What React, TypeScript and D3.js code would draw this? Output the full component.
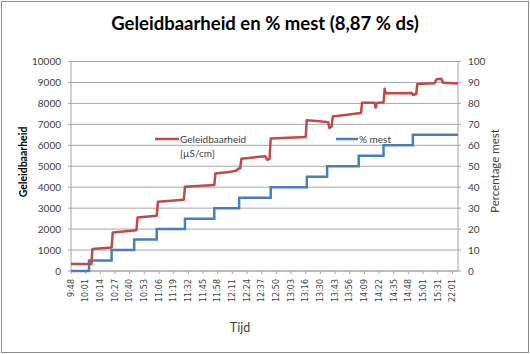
import React from "react";
import * as d3 from "d3";

const title = "Geleidbaarheid en % mest (8,87 % ds)";

// category labels every 13 samples
const timeLabels = [
  "9:48", "10:01", "10:14", "10:27", "10:40", "10:53", "11:06", "11:19", "11:32",
  "11:45", "11:58", "12:11", "12:24", "12:37", "12:50", "13:03", "13:16", "13:30",
  "13:43", "13:56", "14:09", "14:22", "14:35", "14:48", "15:01", "15:31", "22:01",
];
const labelStep = 13;
const categoryCount = 344;

// Geleidbaarheid [µS/cm] (sample index, value)
const redIdx = [
  0, 18, 19, 36, 37, 58, 59, 76, 77, 100, 101, 127, 128, 140, 147, 148, 150, 151,
  172, 174, 176, 177, 208, 209, 220, 228, 229, 231, 232, 257, 258, 269, 270, 271,
  277, 278, 279, 302, 303, 306, 307, 322, 324, 328, 330, 343,
];
const redVal = [
  330, 330, 1050, 1120, 1840, 1950, 2550, 2640, 3300, 3400, 4020, 4100, 4650, 4720,
  4800, 4880, 4900, 5360, 5480, 5300, 5350, 6320, 6400, 7200, 7150, 7100, 6820, 6900,
  7380, 7540, 8030, 8030, 7800, 8020, 8050, 8700, 8480, 8500, 8400, 8450, 8930, 8960,
  9150, 9180, 8980, 8950,
];

// % mest (sample index where step starts, value)
const blueIdx = [0, 16, 36, 56, 76, 101, 127, 149, 177, 209, 227, 255, 277, 303, 343];
const blueVal = [0, 5, 10, 15, 20, 25, 30, 35, 40, 45, 50, 55, 60, 65, 65];

const W = 530;
const H = 354;
const plot = { left: 71, right: 458, top: 61.5, bottom: 271 };
const red = "#BE4B48";
const blue = "#4A7EBB";
const textCol = "#404040";

export default function App() {
  const x = d3.scaleLinear().domain([0, categoryCount - 1]).range([plot.left, plot.right]);
  const yL = d3.scaleLinear().domain([0, 10000]).range([plot.bottom, plot.top]);
  const yR = d3.scaleLinear().domain([0, 100]).range([plot.bottom, plot.top]);

  const redLine = d3
    .line<number>()
    .x((d, i) => x(redIdx[i]))
    .y((d) => yL(d))(redVal);

  const blueLine = d3
    .line<number>()
    .curve(d3.curveStepAfter)
    .x((d, i) => x(blueIdx[i]))
    .y((d) => yR(d))(blueVal);

  const leftTicks = yL.ticks(10);
  const rightTicks = yR.ticks(10);

  return (
    <>
      <style>{"body{margin:0}"}</style>
      <svg width={W} height={H} style={{ display: "block", fontFamily: "Lato, sans-serif" }}>
        <rect x={0} y={0} width={W} height={H} fill="#fff" />
        <rect x={1.5} y={1.5} width={W - 3} height={H - 3} fill="none" stroke="#8c8c8c" />

        <text x={265} y={30} textAnchor="middle" fontSize={18.5} fontWeight="bold" fill="#000">
          {title}
        </text>

        {/* gridlines */}
        {leftTicks.map((t) => (
          <line key={"g" + t} x1={plot.left} x2={plot.right} y1={yL(t)} y2={yL(t)} stroke="#a6a6a6" strokeWidth={1} />
        ))}

        {/* axes */}
        <line x1={plot.left} x2={plot.left} y1={plot.top} y2={plot.bottom} stroke="#a6a6a6" />
        <line x1={plot.right} x2={plot.right} y1={plot.top} y2={plot.bottom} stroke="#a6a6a6" />
        <line x1={plot.left} x2={plot.right} y1={plot.bottom} y2={plot.bottom} stroke="#a6a6a6" />

        {leftTicks.map((t) => (
          <g key={"l" + t}>
            <line x1={plot.left - 3} x2={plot.left} y1={yL(t)} y2={yL(t)} stroke="#a6a6a6" />
            <text x={61} y={yL(t)} dy="0.35em" textAnchor="end" fontSize={10} fill={textCol}>
              {t}
            </text>
          </g>
        ))}
        {rightTicks.map((t) => (
          <g key={"r" + t}>
            <line x1={plot.right} x2={plot.right + 3} y1={yR(t)} y2={yR(t)} stroke="#a6a6a6" />
            <text x={468} y={yR(t)} dy="0.35em" textAnchor="start" fontSize={10} fill={textCol}>
              {t}
            </text>
          </g>
        ))}

        {timeLabels.map((lab, i) => {
          const px = x(i * labelStep);
          return (
            <g key={"x" + i}>
              <line x1={px} x2={px} y1={plot.bottom} y2={plot.bottom + 3} stroke="#a6a6a6" />
              <text
                transform={`translate(${px},279) rotate(-90)`}
                dy="0.35em"
                textAnchor="end"
                fontSize={8}
                fontFamily="DejaVu Sans, sans-serif"
                fill={textCol}
              >
                {lab}
              </text>
            </g>
          );
        })}

        {/* axis titles */}
        <text x={240} y={332} textAnchor="middle" fontSize={12.5} fill={textCol}>
          Tijd
        </text>
        <text
          transform="translate(23,162) rotate(-90)"
          dy="0.35em"
          textAnchor="middle"
          fontSize={10.5}
          fontWeight="bold"
          fill="#000"
        >
          Geleidbaarheid
        </text>
        <text
          transform="translate(495,171) rotate(-90)"
          dy="0.35em"
          textAnchor="middle"
          fontSize={11.5}
          fill={textCol}
        >
          Percentage mest
        </text>

        {/* series */}
        <path d={blueLine ?? ""} fill="none" stroke={blue} strokeWidth={2.5} />
        <path d={redLine ?? ""} fill="none" stroke={red} strokeWidth={2.5} strokeLinejoin="round" />

        {/* legend */}
        <line x1={155} x2={179} y1={139} y2={139} stroke={red} strokeWidth={2.5} />
        <text x={180} y={139} dy="0.35em" fontSize={10} fill={textCol}>
          Geleidbaarheid
        </text>
        <text x={180} y={153} dy="0.35em" fontSize={10} fill={textCol}>
          [µS/cm]
        </text>
        <line x1={336} x2={358} y1={139} y2={139} stroke={blue} strokeWidth={2.5} />
        <text x={359} y={139} dy="0.35em" fontSize={10} fill={textCol}>
          % mest
        </text>
      </svg>
    </>
  );
}
